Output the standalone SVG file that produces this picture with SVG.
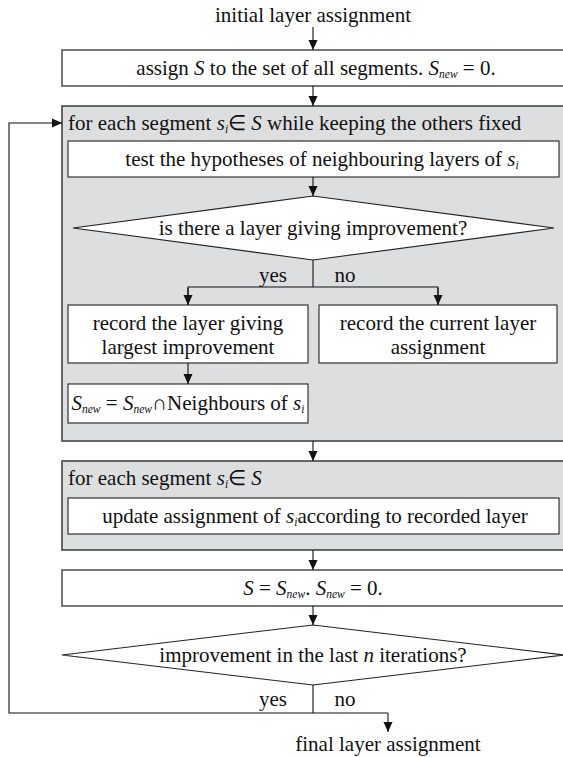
<svg xmlns="http://www.w3.org/2000/svg" width="563" height="757" viewBox="0 0 563 757">
<style>
text{font-family:"Liberation Serif","Times New Roman",serif;font-size:21px;fill:#111}
.m{text-anchor:middle}
.i{font-style:italic}
.sb{font-style:italic;font-size:11.5px}
.box{fill:#fff;stroke:#222;stroke-width:1.1}
.obox{fill:#fff;stroke:#555;stroke-width:1.6}
.gbox{fill:#dddee0;stroke:#444;stroke-width:1.6}
.ln{fill:none;stroke:#111;stroke-width:1.1}
</style>
<defs>
<marker id="ah" markerUnits="userSpaceOnUse" markerWidth="10" markerHeight="10" refX="10" refY="5" orient="auto">
<path d="M0,0.5 L10,5 L0,9.5 z" fill="#111"/>
</marker>
</defs>
<g id="start"><text class="m" x="313" y="22">initial layer assignment</text></g>
<g id="assign"><rect class="obox" x="62" y="50" width="505" height="36"/>
<text class="m" x="316" y="75">assign <tspan class="i">S</tspan> to the set of all segments. <tspan class="i">S</tspan><tspan class="sb" dy="3">new</tspan><tspan dy="-3"> = 0.</tspan></text></g>
<g id="loop1"><rect class="gbox" x="62" y="106" width="505" height="335"/>
<text x="68" y="130">for each segment <tspan class="i">s</tspan><tspan class="sb" dy="3">i</tspan><tspan dy="-3">∈ <tspan class="i">S</tspan> while keeping the others fixed</tspan></text></g>
<g id="test"><rect class="box" x="68" y="141" width="491" height="36"/>
<text class="m" x="322" y="166">test the hypotheses of neighbouring layers of <tspan class="i">s</tspan><tspan class="sb" dy="3">i</tspan></text></g>
<g id="decision1"><polygon class="box" points="73,228 313,196 554,228 313,260"/>
<text class="m" x="313" y="235">is there a layer giving improvement?</text></g>
<g id="recordBest"><rect class="box" x="68" y="305" width="240" height="58"/>
<text class="m" x="188" y="330">record the layer giving</text>
<text class="m" x="188" y="354">largest improvement</text></g>
<g id="recordCurrent"><rect class="box" x="319" y="305" width="238" height="58"/>
<text class="m" x="438" y="330">record the current layer</text>
<text class="m" x="438" y="354">assignment</text></g>
<g id="snew"><rect class="box" x="68" y="384" width="240" height="39"/>
<text class="m" x="188" y="410"><tspan class="i">S</tspan><tspan class="sb" dy="3">new</tspan><tspan dy="-3"> = </tspan><tspan class="i">S</tspan><tspan class="sb" dy="3">new</tspan><tspan dy="-3">∩Neighbours of </tspan><tspan class="i">s</tspan><tspan class="sb" dy="3">i</tspan></text></g>
<g id="loop2"><rect class="gbox" x="62" y="461" width="505" height="89"/>
<text x="68" y="485">for each segment <tspan class="i">s</tspan><tspan class="sb" dy="3">i</tspan><tspan dy="-3">∈ <tspan class="i">S</tspan></tspan></text></g>
<g id="update"><rect class="box" x="68" y="498" width="491" height="36"/>
<text class="m" x="315" y="523">update assignment of <tspan class="i">s</tspan><tspan class="sb" dy="3">i</tspan><tspan dy="-3">according to recorded layer</tspan></text></g>
<g id="swap"><rect class="obox" x="62" y="570" width="505" height="36"/>
<text class="m" x="313" y="595"><tspan class="i">S</tspan> = <tspan class="i">S</tspan><tspan class="sb" dy="3">new</tspan><tspan dy="-3">. </tspan><tspan class="i">S</tspan><tspan class="sb" dy="3">new</tspan><tspan dy="-3"> = 0.</tspan></text></g>
<g id="decision2"><polygon class="box" points="62,655 313,625 564,655 313,685"/>
<text class="m" x="313" y="662">improvement in the last <tspan class="i">n</tspan> iterations?</text></g>
<g id="end"><text class="m" x="388" y="751">final layer assignment</text></g>
<g id="labels">
<text class="m" x="273" y="282">yes</text><text class="m" x="345" y="282">no</text>
<text class="m" x="273" y="706">yes</text><text class="m" x="345" y="706">no</text>
</g>
<g id="connectors">
<line class="ln" x1="313" y1="27" x2="313" y2="50" marker-end="url(#ah)"/>
<line class="ln" x1="313" y1="86" x2="313" y2="106" marker-end="url(#ah)"/>
<line class="ln" x1="313" y1="177" x2="313" y2="196" marker-end="url(#ah)"/>
<line class="ln" x1="313" y1="260" x2="313" y2="287"/>
<path class="ln" d="M188,305 V287 H438 V305"/>
<line class="ln" x1="188" y1="288" x2="188" y2="305" marker-end="url(#ah)"/>
<line class="ln" x1="438" y1="288" x2="438" y2="305" marker-end="url(#ah)"/>
<line class="ln" x1="188" y1="363" x2="188" y2="384" marker-end="url(#ah)"/>
<line class="ln" x1="313" y1="441" x2="313" y2="461" marker-end="url(#ah)"/>
<line class="ln" x1="313" y1="550" x2="313" y2="570" marker-end="url(#ah)"/>
<line class="ln" x1="313" y1="606" x2="313" y2="625" marker-end="url(#ah)"/>
<line class="ln" x1="313" y1="685" x2="313" y2="713"/>
<path class="ln" d="M388,713 H9 V123 H62" marker-end="url(#ah)"/>
<line class="ln" x1="388" y1="713" x2="388" y2="732" marker-end="url(#ah)"/>
</g>
</svg>
